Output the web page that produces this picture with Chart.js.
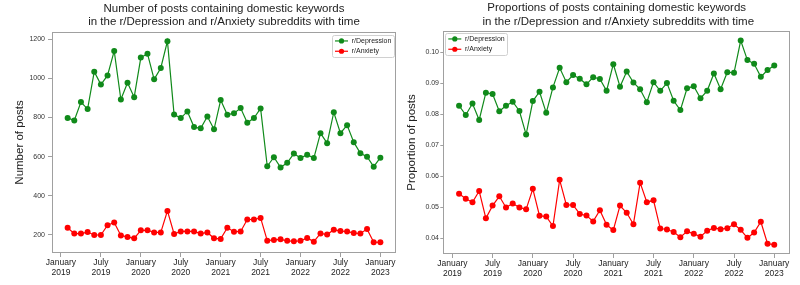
<!DOCTYPE html>
<html>
<head>
<meta charset="utf-8">
<script src="https://cdn.jsdelivr.net/npm/chart.js@4/dist/chart.umd.min.js"></script>
<style>
  html, body { margin: 0; padding: 0; background: #fff; }
  #wrap { position: relative; width: 800px; height: 285px; }
  .panel { position: absolute; top: 0; width: 400px; height: 285px; }
</style>
</head>
<body>
<div id="wrap">
  <div class="panel" style="left:0"><canvas id="countChart" width="400" height="285"></canvas></div>
  <div class="panel" style="left:400px"><canvas id="propChart" width="400" height="285"></canvas></div>
</div>
<script>
// months Jan 2019 .. Dec 2022, plotted at month end (one step right of the month start)
const months = [
  '2019-01','2019-02','2019-03','2019-04','2019-05','2019-06','2019-07','2019-08','2019-09','2019-10','2019-11','2019-12',
  '2020-01','2020-02','2020-03','2020-04','2020-05','2020-06','2020-07','2020-08','2020-09','2020-10','2020-11','2020-12',
  '2021-01','2021-02','2021-03','2021-04','2021-05','2021-06','2021-07','2021-08','2021-09','2021-10','2021-11','2021-12',
  '2022-01','2022-02','2022-03','2022-04','2022-05','2022-06','2022-07','2022-08','2022-09','2022-10','2022-11','2022-12'
]

const depressionCount = [798, 785, 879, 843, 1034, 968, 1015, 1140, 892, 978, 904, 1106,
  1126, 995, 1053, 1190, 815, 797, 831, 751, 745, 805, 740, 889,
  814, 822, 848, 773, 797, 846, 551, 597, 545, 569, 616, 593,
  610, 593, 720, 669, 827, 720, 761, 674, 617, 600, 549, 595]
const anxietyCount = [237, 207, 207, 215, 200, 200, 250, 264, 197, 190, 183, 224,
  224, 213, 213, 323, 205, 218, 218, 218, 207, 213, 183, 180,
  237, 217, 218, 279, 279, 287, 171, 175, 178, 170, 168, 170,
  185, 166, 208, 202, 227, 220, 218, 210, 208, 230, 163, 163]

const depressionProp = [0.0827, 0.0797, 0.0834, 0.0781, 0.0869, 0.0865, 0.0809, 0.0827, 0.0840, 0.0810, 0.0734, 0.0842,
  0.0872, 0.0804, 0.0886, 0.0949, 0.0903, 0.0926, 0.0914, 0.0896, 0.0919, 0.0913, 0.0875, 0.0961,
  0.0888, 0.0937, 0.0902, 0.0880, 0.0838, 0.0903, 0.0875, 0.0900, 0.0843, 0.0813, 0.0883, 0.0890,
  0.0851, 0.0875, 0.0931, 0.0880, 0.0935, 0.0933, 0.1037, 0.0974, 0.0962, 0.0920, 0.0942, 0.0957]
const anxietyProp = [0.0543, 0.0527, 0.0516, 0.0552, 0.0464, 0.0505, 0.0535, 0.0499, 0.0512, 0.0499, 0.0493, 0.0559,
  0.0472, 0.0470, 0.0439, 0.0588, 0.0507, 0.0507, 0.0478, 0.0473, 0.0454, 0.0490, 0.0443, 0.0426,
  0.0505, 0.0482, 0.0445, 0.0579, 0.0516, 0.0522, 0.0431, 0.0428, 0.0420, 0.0403, 0.0422, 0.0414,
  0.0405, 0.0424, 0.0433, 0.0429, 0.0432, 0.0445, 0.0427, 0.0401, 0.0418, 0.0453, 0.0382, 0.0379]

// x tick positions in months since January 2019
const xTickPos = [0, 6, 12, 18, 24, 30, 36, 42, 48]
const xTickLabels = [
  ['January', '2019'], ['July', '2019'], ['January', '2020'], ['July', '2020'], ['January', '2021'],
  ['July', '2021'], ['January', '2022'], ['July', '2022'], ['January', '2023']
]
const countTicks = [200, 400, 600, 800, 1000, 1200]
const propTicks = [0.04, 0.05, 0.06, 0.07, 0.08, 0.09, 0.10]

const FONT = "'Liberation Sans', Arial, sans-serif"
const GREEN = '#108a1a'
const RED = '#ff0000'
const SPINE = '#a0a0a0'

const toPoints = (values) => values.map((v, i) => ({ x: months.indexOf(months[i]) + 1, y: v }))

// matplotlib-like frame around the plot area
const frame = {
  id: 'frame',
  beforeDatasetsDraw(chart) {
    const { ctx, chartArea: a } = chart
    ctx.save()
    ctx.strokeStyle = SPINE
    ctx.lineWidth = 1
    ctx.strokeRect(Math.round(a.left) + 0.5, Math.round(a.top) + 0.5, Math.round(a.width) - 1, Math.round(a.height) - 1)
    ctx.restore()
  }
}

// legend box inside the axes, line + marker samples
const legendBox = {
  id: 'legendBox',
  afterDatasetsDraw(chart, args, opts) {
    const { ctx, chartArea: a } = chart
    const w = 62, h = 22
    const x0 = opts.corner === 'right' ? a.right - w - 2 : a.left + 2
    const y0 = a.top + (opts.corner === 'right' ? 3 : 2)
    ctx.save()
    ctx.fillStyle = 'rgba(255,255,255,0.85)'
    ctx.strokeStyle = '#d0d0d0'
    ctx.lineWidth = 1
    ctx.beginPath()
    ctx.roundRect(Math.round(x0) + 0.5, Math.round(y0) + 0.5, w, h, 2)
    ctx.fill()
    ctx.stroke()
    chart.data.datasets.forEach((ds, i) => {
      const y = y0 + 6 + i * 10.3
      ctx.strokeStyle = ds.borderColor
      ctx.lineWidth = 1.2
      ctx.beginPath()
      ctx.moveTo(x0 + 3, y)
      ctx.lineTo(x0 + 16, y)
      ctx.stroke()
      ctx.fillStyle = ds.borderColor
      ctx.beginPath()
      ctx.arc(x0 + 9.5, y, 2.6, 0, Math.PI * 2)
      ctx.fill()
      ctx.fillStyle = '#222'
      ctx.font = '7px ' + FONT
      ctx.textBaseline = 'middle'
      ctx.fillText(ds.label, x0 + 19.7, y)
    })
    ctx.restore()
  }
}

const makeChart = (id, cfg) => {
  const ctx = document.getElementById(id)
  return new Chart(ctx, {
    type: 'line',
    data: {
      datasets: [
        {
          label: 'r/Depression',
          data: toPoints(cfg.green),
          borderColor: GREEN,
          backgroundColor: GREEN,
          borderWidth: 1.2,
          pointRadius: 3,
          pointBorderWidth: 0,
          tension: 0
        },
        {
          label: 'r/Anxiety',
          data: toPoints(cfg.red),
          borderColor: RED,
          backgroundColor: RED,
          borderWidth: 1.2,
          pointRadius: 3,
          pointBorderWidth: 0,
          tension: 0
        }
      ]
    },
    options: {
      responsive: false,
      animation: false,
      devicePixelRatio: 1,
      layout: { padding: { left: 0, right: cfg.padRight, top: 0, bottom: 0 } },
      plugins: {
        legend: { display: false },
        tooltip: { enabled: false },
        legendBox: { corner: cfg.legendCorner },
        title: {
          display: true,
          fullSize: false,
          text: cfg.title,
          color: '#222',
          font: { family: FONT, size: 11.5, weight: 'normal', lineHeight: 1.15 },
          padding: { top: cfg.titleTop, bottom: cfg.titleBottom }
        }
      },
      scales: {
        x: {
          type: 'linear',
          min: -1.35,
          max: 50.35,
          afterBuildTicks: (s) => { s.ticks = xTickPos.map(v => ({ value: v })) },
          afterFit: (s) => { s.height = cfg.xHeight },
          grid: { drawOnChartArea: false, tickLength: 4, color: SPINE },
          border: { display: false },
          ticks: {
            autoSkip: false,
            maxRotation: 0,
            padding: 1,
            color: '#222',
            font: { family: FONT, size: 8.5, lineHeight: 1.18 },
            callback: (v) => xTickLabels[xTickPos.indexOf(v)]
          }
        },
        y: {
          min: cfg.yMin,
          max: cfg.yMax,
          afterBuildTicks: (s) => { s.ticks = cfg.yTicks.map(v => ({ value: v })) },
          afterFit: (s) => { s.width = cfg.yWidth },
          grid: { drawOnChartArea: false, tickLength: cfg.yTickLen, color: SPINE },
          border: { display: false },
          ticks: {
            padding: cfg.yPad,
            color: '#333',
            font: { family: FONT, size: 7 },
            callback: cfg.yFormat
          },
          title: {
            display: true,
            text: cfg.yTitle,
            color: '#222',
            font: { family: FONT, size: 11.5 },
            padding: { top: cfg.yTitlePad, bottom: 0 }
          }
        }
      }
    },
    plugins: [frame, legendBox]
  })
}

makeChart('countChart', {
  green: depressionCount,
  red: anxietyCount,
  title: ['Number of posts containing domestic keywords', 'in the r/Depression and r/Anxiety subreddits with time'],
  titleTop: 2,
  titleBottom: 3.5,
  yTitle: 'Number of posts',
  yTitlePad: 13,
  yMin: 108,
  yMax: 1237,
  yTicks: countTicks,
  yFormat: (v) => String(v),
  yWidth: 52,
  yTickLen: 4,
  yPad: 3,
  xHeight: 32,
  padRight: 4,
  legendCorner: 'right'
})

makeChart('propChart', {
  green: depressionProp,
  red: anxietyProp,
  title: ['Proportions of posts containing domestic keywords', ' in the r/Depression and r/Anxiety subreddits with time'],
  titleTop: 1.5,
  titleBottom: 3,
  yTitle: 'Proportion of posts',
  yTitlePad: 4.8,
  yMin: 0.0349,
  yMax: 0.1068,
  yTicks: propTicks,
  yFormat: (v) => v.toFixed(2),
  yWidth: 43.3,
  yTickLen: 3,
  yPad: 1.3,
  xHeight: 31,
  padRight: 10,
  legendCorner: 'left'
})
</script>
</body>
</html>
